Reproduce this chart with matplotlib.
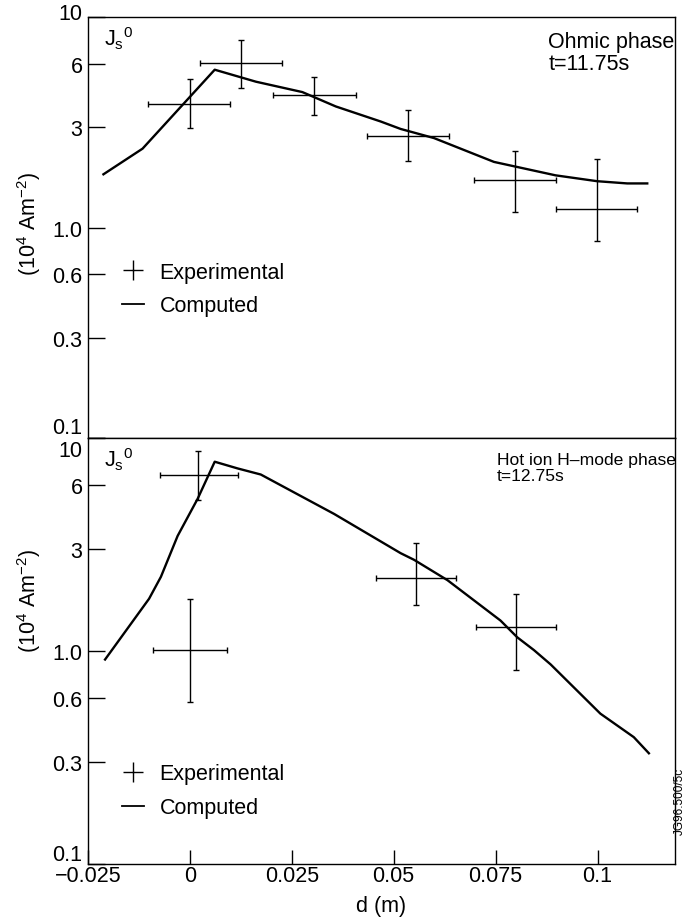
import matplotlib
matplotlib.use("Agg")
import matplotlib.pyplot as plt
from matplotlib.lines import Line2D
from matplotlib.transforms import ScaledTranslation
from matplotlib import font_manager
import numpy as np

plt.rcParams['font.family'] = ['Liberation Sans', 'DejaVu Sans']
plt.rcParams['mathtext.default'] = 'regular'

# ---------------- data ----------------
# Ohmic phase t=11.75 s
top_exp_x = [0.0, 0.0125, 0.0305, 0.0535, 0.0797, 0.0998]
top_exp_y = [3.86, 6.03, 4.24, 2.73, 1.68, 1.22]
top_exp_ylo = [2.97, 4.59, 3.43, 2.08, 1.19, 0.865]
top_exp_yhi = [5.05, 7.81, 5.21, 3.60, 2.32, 2.11]
top_exp_xlo = [-0.0102, 0.0025, 0.0205, 0.0435, 0.0697, 0.0897]
top_exp_xhi = [0.0099, 0.0225, 0.0407, 0.0635, 0.0897, 0.1097]

top_comp_x = [-0.0212, -0.0116, 0.0061, 0.0162, 0.0276, 0.0358, 0.0468,
              0.0517, 0.0599, 0.0746, 0.0897, 0.0999, 0.1073, 0.1122]
top_comp_y = [1.79, 2.37, 5.62, 4.93, 4.40, 3.76, 3.19,
              2.94, 2.66, 2.05, 1.77, 1.66, 1.62, 1.62]

# Hot ion H-mode phase t=12.75 s
bot_exp_x = [0.002, 0.0, 0.0554, 0.080]
bot_exp_y = [6.68, 1.01, 2.21, 1.30]
bot_exp_ylo = [5.10, 0.578, 1.65, 0.81]
bot_exp_yhi = [8.71, 1.75, 3.22, 1.86]
bot_exp_xlo = [-0.0074, -0.0091, 0.0456, 0.0703]
bot_exp_xhi = [0.0118, 0.0092, 0.0652, 0.0899]

bot_comp_x = [-0.0208, -0.0100, -0.0071, -0.0030, 0.0019, 0.0061, 0.0117,
              0.0174, 0.0354, 0.0517, 0.0550, 0.0632, 0.0762, 0.0803,
              0.0844, 0.0885, 0.1007, 0.1089, 0.1126]
bot_comp_y = [0.912, 1.76, 2.23, 3.47, 5.18, 7.74, 7.20,
              6.74, 4.40, 2.88, 2.68, 2.15, 1.39, 1.16,
              1.01, 0.865, 0.508, 0.394, 0.331]

x_ticks = [-0.025, 0, 0.025, 0.05, 0.075, 0.1]
x_ticklabels = ['\u22120.025', '0', '0.025', '0.05', '0.075', '0.1']
y_ticks = [0.1, 0.3, 0.6, 1.0, 3, 6, 10]
y_ticklabels = ['0.1', '0.3', '0.6', '1.0', '3', '6', '10']

FS = 15.5

# narrow face for the long panel title, if available
try:
    font_manager.findfont('Liberation Sans Narrow', fallback_to_default=False)
    HOT_FAMILY, HOT_FS = ['Liberation Sans Narrow', 'DejaVu Sans'], 14.5
except Exception:
    HOT_FAMILY, HOT_FS = ['Liberation Sans', 'DejaVu Sans'], 12.6

fig = plt.figure(figsize=(6.87, 9.2), dpi=100)
ax1 = fig.add_axes([0.128, 0.5228, 0.8545, 0.4576])
ax2 = fig.add_axes([0.128, 0.0598, 0.8545, 0.4630])


def shift_label(ax, idx, dy_px):
    fig.canvas.draw()
    lab = ax.yaxis.get_major_ticks()[idx].label1
    lab.set_transform(lab.get_transform() +
                      ScaledTranslation(0, dy_px / 100.0, fig.dpi_scale_trans))


def draw(ax, ex, ey, eylo, eyhi, exlo, exhi, cx, cy):
    ex = np.array(ex); ey = np.array(ey)
    yerr = [ey - np.array(eylo), np.array(eyhi) - ey]
    xerr = [ex - np.array(exlo), np.array(exhi) - ex]
    ax.errorbar(ex, ey, xerr=xerr, yerr=yerr, fmt='none', ecolor='black',
                elinewidth=1.0, capsize=2.5, capthick=1.0)
    ax.plot(cx, cy, color='black', lw=1.7)
    ax.set_yscale('log')
    ax.set_xlim(-0.025, 0.119)
    ax.set_ylim(0.1, 10)
    ax.set_yticks(y_ticks)
    ax.set_yticklabels(y_ticklabels)
    ax.yaxis.set_minor_locator(matplotlib.ticker.NullLocator())
    ax.tick_params(axis='y', direction='in', length=12, width=1,
                   labelsize=FS, pad=4)
    for s in ax.spines.values():
        s.set_linewidth(1.0)
    ax.set_ylabel('(10$^4$ Am$^{-2}$)', fontsize=FS)
    ax.text(0.027, 0.982, 'J$_s$$^0$', transform=ax.transAxes,
            fontsize=FS, va='top', ha='left')
    handles = [Line2D([], [], color='black', marker='+', markersize=15,
                      markeredgewidth=1.0, linestyle='none'),
               Line2D([], [], color='black', lw=1.3)]
    return handles


h = draw(ax1, top_exp_x, top_exp_y, top_exp_ylo, top_exp_yhi,
         top_exp_xlo, top_exp_xhi, top_comp_x, top_comp_y)
ax1.set_xticks(x_ticks)
ax1.tick_params(axis='x', length=0, labelbottom=False)
ax1.yaxis.set_label_coords(-0.077, 0.51)
ax1.text(0.784, 0.968, 'Ohmic phase\nt=11.75s', transform=ax1.transAxes,
         fontsize=FS, va='top', ha='left', linespacing=1.1)
ax1.legend(h, ['Experimental', 'Computed'], loc='center left',
           bbox_to_anchor=(0.058, 0.354), frameon=False, fontsize=FS,
           handlelength=1.0, handletextpad=0.75, labelspacing=0.6,
           borderpad=0, borderaxespad=0)

h = draw(ax2, bot_exp_x, bot_exp_y, bot_exp_ylo, bot_exp_yhi,
         bot_exp_xlo, bot_exp_xhi, bot_comp_x, bot_comp_y)
ax2.set_xticks(x_ticks)
ax2.set_xticklabels(x_ticklabels)
ax2.tick_params(axis='x', direction='in', length=10, width=1,
                labelsize=FS, pad=1)
ax2.yaxis.set_label_coords(-0.077, 0.62)
ax2.set_xlabel('d (m)', fontsize=FS, labelpad=6)
ax2.text(0.697, 0.968, 'Hot ion H\u2013mode phase\nt=12.75s',
         transform=ax2.transAxes, fontsize=HOT_FS, family=HOT_FAMILY,
         va='top', ha='left', linespacing=1.1)
ax2.legend(h, ['Experimental', 'Computed'], loc='center left',
           bbox_to_anchor=(0.058, 0.172), frameon=False, fontsize=FS,
           handlelength=1.0, handletextpad=0.75, labelspacing=0.6,
           borderpad=0, borderaxespad=0)

# offsets of the extreme tick labels, as in the reference
shift_label(ax1, 6, 6)     # top "10"
shift_label(ax1, 0, 13)    # top "0.1"
shift_label(ax2, 6, -10)   # bottom "10"
shift_label(ax2, 0, 12)    # bottom "0.1"

fig.text(0.990, 0.092, 'JG96.500/5c', rotation=90, fontsize=8.5,
         ha='center', va='bottom')

fig.savefig('out.png', dpi=100)
